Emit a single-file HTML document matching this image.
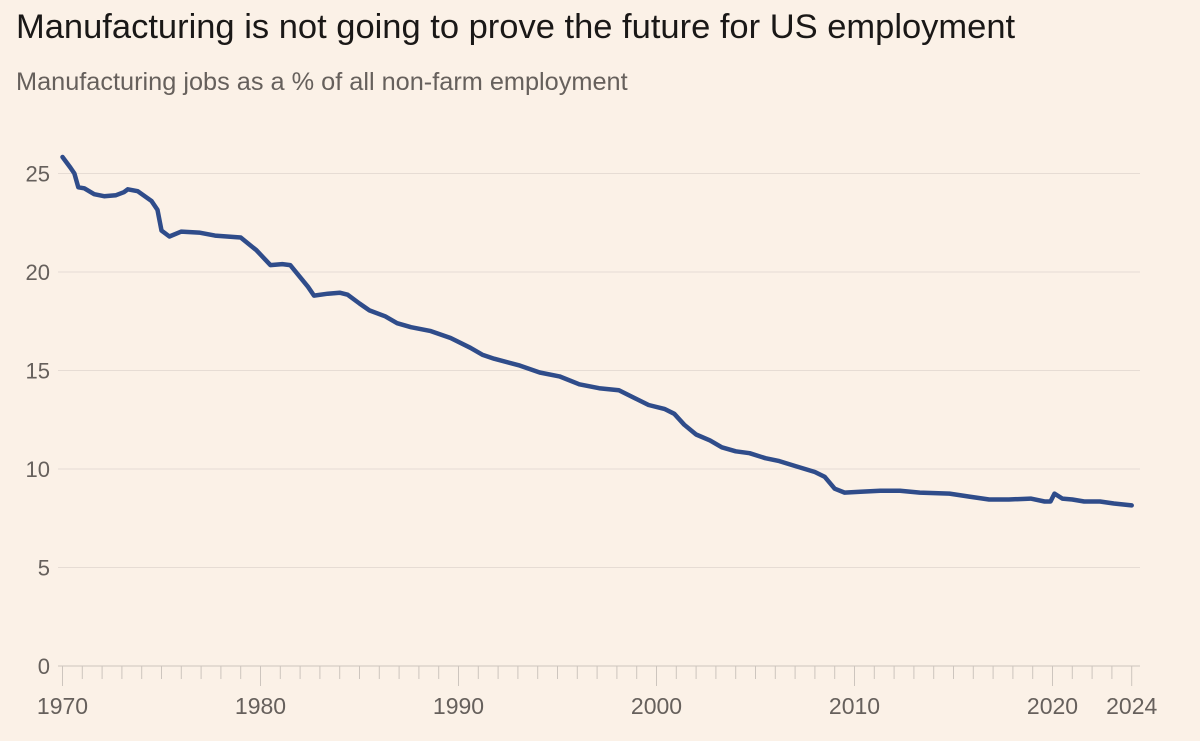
<!DOCTYPE html>
<html><head><meta charset="utf-8"><style>
body{margin:0;background:#fbf1e7;width:1200px;height:741px;overflow:hidden;font-family:"Liberation Sans",sans-serif}
#title{position:absolute;left:16px;top:8px;font-size:34.5px;color:#1a1817;margin:0;font-weight:normal;white-space:nowrap}
#sub{position:absolute;left:16px;top:68px;font-size:25.3px;color:#66605c;white-space:nowrap}
svg{position:absolute;left:0;top:0}
</style></head><body>
<h1 id="title">Manufacturing is not going to prove the future for US employment</h1>
<div id="sub">Manufacturing jobs as a % of all non-farm employment</div>
<svg id="chart" width="1200" height="741"></svg>
<script>
const years=[1970,1970.4,1970.6,1970.8,1971.1,1971.6,1972.1,1972.7,1973.1,1973.3,1973.8,1974.5,1974.8,1975.0,1975.4,1976.0,1976.9,1977.7,1979.0,1979.8,1980.5,1981.1,1981.5,1982.4,1982.7,1983.4,1984.0,1984.4,1985.0,1985.5,1986.3,1986.9,1987.6,1988.6,1989.6,1990.6,1991.2,1991.8,1993.1,1994.1,1995.1,1996.1,1997.1,1998.1,1998.9,1999.6,2000.4,2000.9,2001.4,2002.0,2002.7,2003.3,2004.0,2004.7,2005.5,2006.2,2007.0,2008.0,2008.5,2009.0,2009.5,2010.3,2011.3,2012.3,2013.3,2014.8,2015.8,2016.8,2017.8,2018.9,2019.6,2019.9,2020.1,2020.5,2021.0,2021.6,2022.4,2023.1,2024.0];
const shares=[25.84,25.3,25.0,24.3,24.25,23.95,23.85,23.9,24.05,24.2,24.1,23.6,23.15,22.1,21.8,22.05,22.0,21.85,21.75,21.1,20.35,20.4,20.35,19.25,18.8,18.9,18.95,18.85,18.4,18.05,17.75,17.4,17.2,17.0,16.65,16.15,15.8,15.6,15.25,14.9,14.7,14.3,14.1,14.0,13.6,13.25,13.05,12.8,12.25,11.75,11.45,11.1,10.9,10.8,10.55,10.4,10.15,9.85,9.6,9.0,8.8,8.85,8.9,8.9,8.8,8.75,8.6,8.45,8.45,8.5,8.35,8.35,8.75,8.5,8.45,8.35,8.35,8.25,8.15];
const yTicks=[0,5,10,15,20,25];
const xLabels=[1970,1980,1990,2000,2010,2020,2024];
const NS="http://www.w3.org/2000/svg",svg=document.getElementById('chart');
const x=v=>62.5+(v-1970)*19.8, y=v=>666-v*19.7;
function mk(t,a,p){const e=document.createElementNS(NS,t);for(const k in a)e.setAttribute(k,a[k]);(p||svg).appendChild(e);return e;}
yTicks.forEach(v=>{
  if(v>0){const g=mk('line',{x1:58,x2:1140,y1:y(v),y2:y(v),stroke:'#e6dcd4','stroke-width':1});
  
  }
  const t=mk('text',{x:50,y:y(v)+8,'text-anchor':'end','font-size':22,fill:'#66605c','font-family':'Liberation Sans'});
  t.textContent=v;
  
  
});
const ax=mk('line',{x1:58,x2:1140,y1:666,y2:666,stroke:'#cdc5be','stroke-width':1});


for(let yr=1970;yr<=2024;yr++){
  const major=yr%10===0||yr===2024;
  const tk=mk('line',{x1:x(yr),x2:x(yr),y1:666,y2:major?686:679,stroke:'#cdc5be','stroke-width':1});
  
  
}
xLabels.forEach(v=>{
  const t=mk('text',{x:x(v),y:714,'text-anchor':'middle','font-size':23,fill:'#66605c','font-family':'Liberation Sans'});
  t.textContent=v;
  
  
});
const d=years.map((v,i)=>(i?'L':'M')+x(v).toFixed(1)+','+y(shares[i]).toFixed(1)).join('');
const p=mk('path',{d:d,fill:'none',stroke:'#2f4c8a','stroke-width':4.5,'stroke-linejoin':'round','stroke-linecap':'round'});


</script>
</body></html>
